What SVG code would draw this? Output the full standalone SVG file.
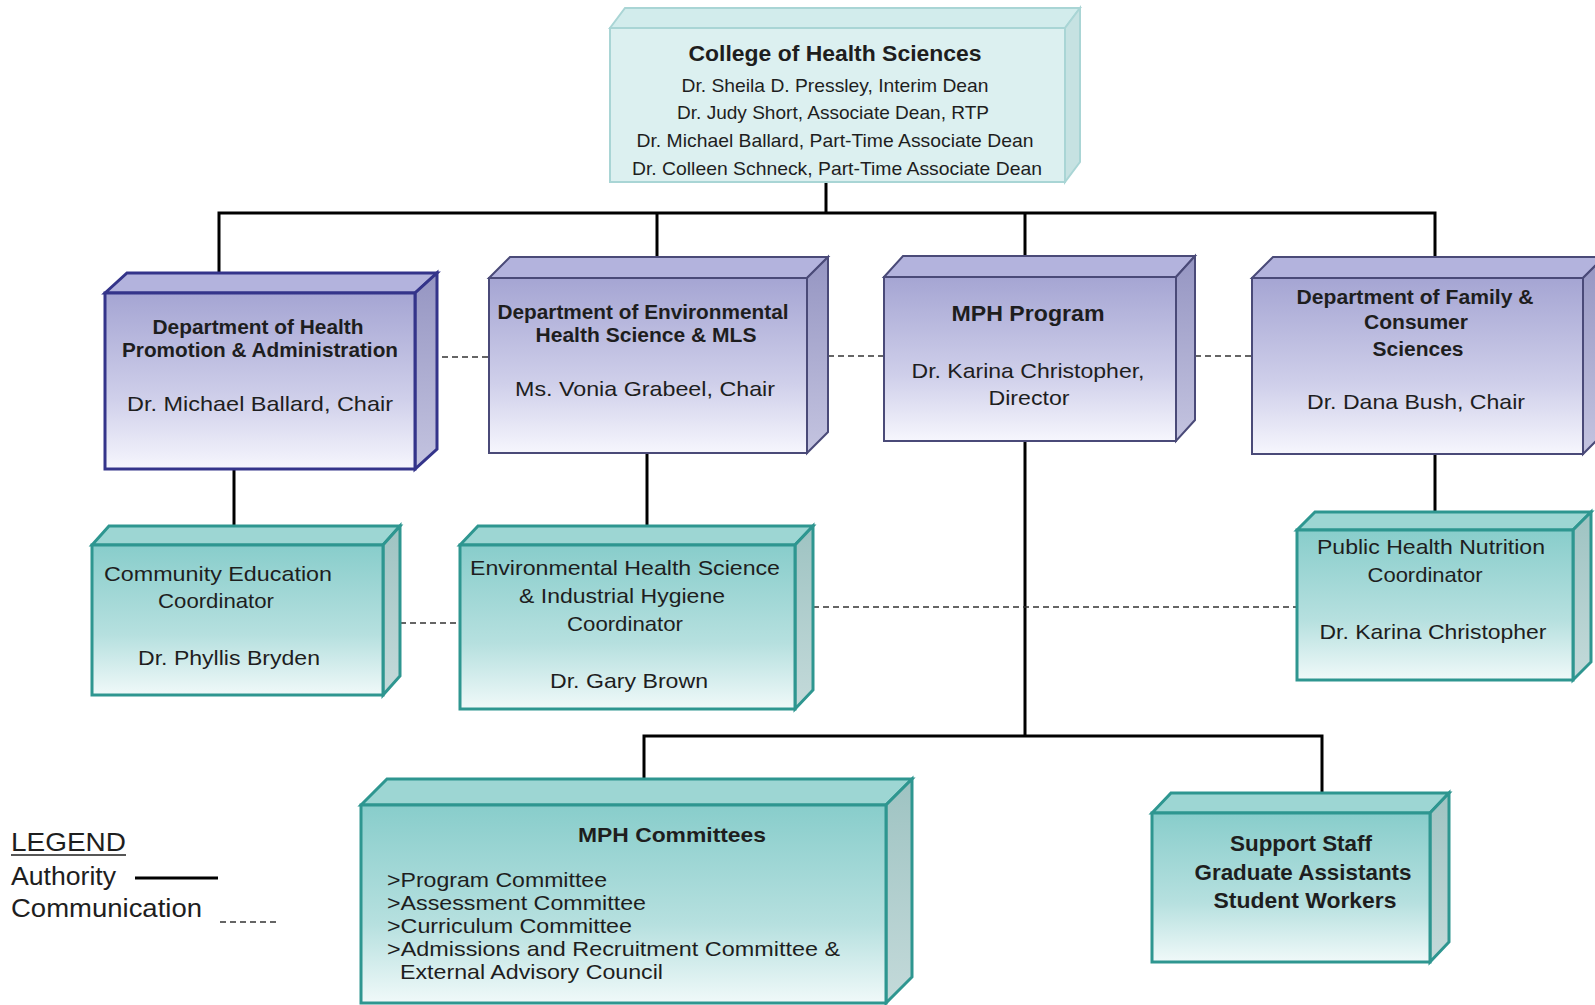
<svg xmlns="http://www.w3.org/2000/svg" width="1595" height="1005" viewBox="0 0 1595 1005">
<defs>
<linearGradient id="gP" x1="0" y1="0" x2="0" y2="1"><stop offset="0" stop-color="#a5a5d3"/><stop offset="0.6" stop-color="#cfcfea"/><stop offset="1" stop-color="#f6f6fd"/></linearGradient>
<linearGradient id="gPs" x1="0" y1="0" x2="0" y2="1"><stop offset="0" stop-color="#9595c2"/><stop offset="1" stop-color="#c4c4e0"/></linearGradient>
<linearGradient id="gT" x1="0" y1="0" x2="0" y2="1"><stop offset="0" stop-color="#88cdcb"/><stop offset="0.6" stop-color="#b6e0df"/><stop offset="1" stop-color="#f0f9f9"/></linearGradient>
<linearGradient id="gTs" x1="0" y1="0" x2="0" y2="1"><stop offset="0" stop-color="#9ec3c2"/><stop offset="1" stop-color="#c4dada"/></linearGradient>
</defs>
<style>
.pf{fill:url(#gP);stroke:#4a4a78;stroke-width:2}
.pt{fill:#b3b3dd;stroke:#4a4a78;stroke-width:2}
.ps{fill:url(#gPs);stroke:#4a4a78;stroke-width:2}
.nv{stroke:#34348a;stroke-width:3}
.tf{fill:url(#gT);stroke:#2e9690;stroke-width:3}
.tt{fill:#9dd6d3;stroke:#2e9690;stroke-width:3}
.ts{fill:url(#gTs);stroke:#2e9690;stroke-width:3}
.cf{fill:#dcf0f0;stroke:#a9d5d5;stroke-width:2}
.ct{fill:#d2ecec;stroke:#a9d5d5;stroke-width:2}
.cs{fill:#c6e2e2;stroke:#a9d5d5;stroke-width:2}
text{font-family:"Liberation Sans",Arial,sans-serif;fill:#1e1e1e;text-anchor:middle}
.b{font-weight:bold}
.l{text-anchor:start}
.auth{stroke:#000;stroke-width:3;fill:none}
.comm{stroke:#333;stroke-width:1.5;stroke-dasharray:6 4;fill:none}
</style>
<rect width="1595" height="1005" fill="#fff"/>
<g id="connectors">
<polyline class="auth" points="219,273 219,213 1435,213 1435,257"/>
<line class="auth" x1="826" y1="182" x2="826" y2="213"/>
<line class="auth" x1="657" y1="213" x2="657" y2="257"/>
<line class="auth" x1="1025" y1="213" x2="1025" y2="256"/>
<line class="auth" x1="234" y1="469" x2="234" y2="526"/>
<line class="auth" x1="647" y1="453" x2="647" y2="526"/>
<line class="auth" x1="1435" y1="454" x2="1435" y2="512"/>
<line class="auth" x1="1025" y1="441" x2="1025" y2="736"/>
<polyline class="auth" points="644,779 644,736 1322,736 1322,793"/>
<line class="comm" x1="432" y1="357" x2="489" y2="357"/>
<line class="comm" x1="828" y1="356" x2="884" y2="356"/>
<line class="comm" x1="1195" y1="356" x2="1252" y2="356"/>
<line class="comm" x1="400" y1="623" x2="460" y2="623"/>
<line class="comm" x1="813" y1="607" x2="1297" y2="607"/>
</g>
<g id="college">
<polygon class="ct" points="610,28 625,8 1080,8 1065,28"/>
<polygon class="cs" points="1065,28 1080,8 1080,162 1065,182"/>
<rect class="cf" x="610" y="28" width="455" height="154"/>
<text class="b" x="835" y="61" font-size="22" textLength="293" lengthAdjust="spacingAndGlyphs">College of Health Sciences</text>
<text x="835" y="92" font-size="19" textLength="307" lengthAdjust="spacingAndGlyphs">Dr. Sheila D. Pressley, Interim Dean</text>
<text x="833" y="119" font-size="19" textLength="312" lengthAdjust="spacingAndGlyphs">Dr. Judy Short, Associate Dean, RTP</text>
<text x="835" y="147" font-size="19" textLength="397" lengthAdjust="spacingAndGlyphs">Dr. Michael Ballard, Part-Time Associate Dean</text>
<text x="837" y="175" font-size="19" textLength="410" lengthAdjust="spacingAndGlyphs">Dr. Colleen Schneck, Part-Time Associate Dean</text>
</g>
<g id="dept-hpa">
<polygon class="pt nv" points="105,293 127,273 437,273 415,293"/>
<polygon class="ps nv" points="415,293 437,273 437,449 415,469"/>
<rect class="pf nv" x="105" y="293" width="310" height="176"/>
<text class="b" x="258" y="334" font-size="20" textLength="211" lengthAdjust="spacingAndGlyphs">Department of Health</text>
<text class="b" x="260" y="357" font-size="20" textLength="276" lengthAdjust="spacingAndGlyphs">Promotion &amp; Administration</text>
<text x="260" y="411" font-size="21" textLength="266" lengthAdjust="spacingAndGlyphs">Dr. Michael Ballard, Chair</text>
</g>
<g id="dept-ehs">
<polygon class="pt" points="489,278 510,257 828,257 807,278"/>
<polygon class="ps" points="807,278 828,257 828,432 807,453"/>
<rect class="pf" x="489" y="278" width="318" height="175"/>
<text class="b" x="643" y="319" font-size="20" textLength="291" lengthAdjust="spacingAndGlyphs">Department of Environmental</text>
<text class="b" x="646" y="342" font-size="20" textLength="221" lengthAdjust="spacingAndGlyphs">Health Science &amp; MLS</text>
<text x="645" y="396" font-size="21" textLength="260" lengthAdjust="spacingAndGlyphs">Ms. Vonia Grabeel, Chair</text>
</g>
<g id="mph-program">
<polygon class="pt" points="884,277 903,256 1195,256 1176,277"/>
<polygon class="ps" points="1176,277 1195,256 1195,420 1176,441"/>
<rect class="pf" x="884" y="277" width="292" height="164"/>
<text class="b" x="1028" y="321" font-size="22" textLength="153" lengthAdjust="spacingAndGlyphs">MPH Program</text>
<text x="1028" y="378" font-size="21" textLength="233" lengthAdjust="spacingAndGlyphs">Dr. Karina Christopher,</text>
<text x="1029" y="405" font-size="21" textLength="81" lengthAdjust="spacingAndGlyphs">Director</text>
</g>
<g id="dept-fcs">
<polygon class="pt" points="1252,278 1273,257 1604,257 1583,278"/>
<polygon class="ps" points="1583,278 1604,257 1604,433 1583,454"/>
<rect class="pf" x="1252" y="278" width="331" height="176"/>
<text class="b" x="1415" y="304" font-size="20" textLength="237" lengthAdjust="spacingAndGlyphs">Department of Family &amp;</text>
<text class="b" x="1416" y="329" font-size="20" textLength="104" lengthAdjust="spacingAndGlyphs">Consumer</text>
<text class="b" x="1418" y="356" font-size="20" textLength="91" lengthAdjust="spacingAndGlyphs">Sciences</text>
<text x="1416" y="409" font-size="21" textLength="218" lengthAdjust="spacingAndGlyphs">Dr. Dana Bush, Chair</text>
</g>
<g id="community-ed">
<polygon class="tt" points="92,545 109,526 400,526 383,545"/>
<polygon class="ts" points="383,545 400,526 400,676 383,695"/>
<rect class="tf" x="92" y="545" width="291" height="150"/>
<text x="218" y="581" font-size="21" textLength="228" lengthAdjust="spacingAndGlyphs">Community Education</text>
<text x="216" y="608" font-size="21" textLength="116" lengthAdjust="spacingAndGlyphs">Coordinator</text>
<text x="229" y="665" font-size="21" textLength="182" lengthAdjust="spacingAndGlyphs">Dr. Phyllis Bryden</text>
</g>
<g id="ehs-coordinator">
<polygon class="tt" points="460,545 478,526 813,526 795,545"/>
<polygon class="ts" points="795,545 813,526 813,690 795,709"/>
<rect class="tf" x="460" y="545" width="335" height="164"/>
<text x="625" y="575" font-size="21" textLength="310" lengthAdjust="spacingAndGlyphs">Environmental Health Science</text>
<text x="622" y="603" font-size="21" textLength="206" lengthAdjust="spacingAndGlyphs">&amp; Industrial Hygiene</text>
<text x="625" y="631" font-size="21" textLength="116" lengthAdjust="spacingAndGlyphs">Coordinator</text>
<text x="629" y="688" font-size="21" textLength="158" lengthAdjust="spacingAndGlyphs">Dr. Gary Brown</text>
</g>
<g id="phn-coordinator">
<polygon class="tt" points="1297,530 1315,512 1591,512 1573,530"/>
<polygon class="ts" points="1573,530 1591,512 1591,662 1573,680"/>
<rect class="tf" x="1297" y="530" width="276" height="150"/>
<text x="1431" y="554" font-size="21" textLength="228" lengthAdjust="spacingAndGlyphs">Public Health Nutrition</text>
<text x="1425" y="582" font-size="21" textLength="115" lengthAdjust="spacingAndGlyphs">Coordinator</text>
<text x="1433" y="639" font-size="21" textLength="227" lengthAdjust="spacingAndGlyphs">Dr. Karina Christopher</text>
</g>
<g id="mph-committees">
<polygon class="tt" points="361,805 387,779 912,779 886,805"/>
<polygon class="ts" points="886,805 912,779 912,977 886,1003"/>
<rect class="tf" x="361" y="805" width="525" height="198"/>
<text class="b" x="672" y="842" font-size="21" textLength="188" lengthAdjust="spacingAndGlyphs">MPH Committees</text>
<text class="l" x="387" y="887" font-size="21" textLength="220" lengthAdjust="spacingAndGlyphs">&gt;Program Committee</text>
<text class="l" x="387" y="910" font-size="21" textLength="259" lengthAdjust="spacingAndGlyphs">&gt;Assessment Committee</text>
<text class="l" x="387" y="933" font-size="21" textLength="245" lengthAdjust="spacingAndGlyphs">&gt;Curriculum Committee</text>
<text class="l" x="387" y="956" font-size="21" textLength="453" lengthAdjust="spacingAndGlyphs">&gt;Admissions and Recruitment Committee &amp;</text>
<text class="l" x="400" y="979" font-size="21" textLength="263" lengthAdjust="spacingAndGlyphs">External Advisory Council</text>
</g>
<g id="support-staff">
<polygon class="tt" points="1152,813 1171,793 1449,793 1430,813"/>
<polygon class="ts" points="1430,813 1449,793 1449,942 1430,962"/>
<rect class="tf" x="1152" y="813" width="278" height="149"/>
<text class="b" x="1301" y="851" font-size="22" textLength="142" lengthAdjust="spacingAndGlyphs">Support Staff</text>
<text class="b" x="1303" y="880" font-size="22" textLength="217" lengthAdjust="spacingAndGlyphs">Graduate Assistants</text>
<text class="b" x="1305" y="908" font-size="22" textLength="183" lengthAdjust="spacingAndGlyphs">Student Workers</text>
</g>
<g id="legend">
<text class="l" x="11" y="851" font-size="26" textLength="115" lengthAdjust="spacingAndGlyphs">LEGEND</text>
<line x1="11" y1="855" x2="126" y2="855" stroke="#1e1e1e" stroke-width="1.5"/>
<text class="l" x="11" y="885" font-size="26" textLength="105" lengthAdjust="spacingAndGlyphs">Authority</text>
<line class="auth" x1="135" y1="878" x2="218" y2="878"/>
<text class="l" x="11" y="917" font-size="26" textLength="191" lengthAdjust="spacingAndGlyphs">Communication</text>
<line class="comm" x1="220" y1="922" x2="277" y2="922"/>
</g>
</svg>
